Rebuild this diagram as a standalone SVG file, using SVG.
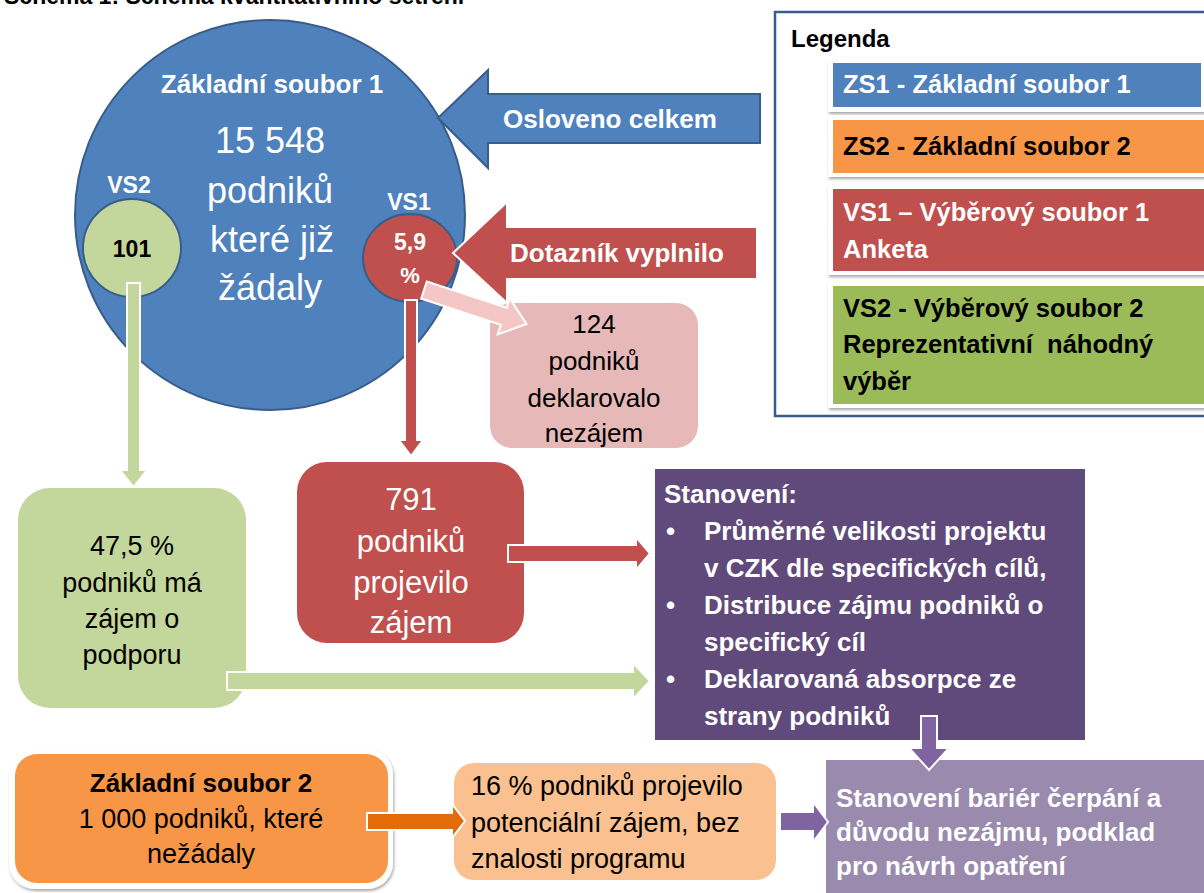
<svg xmlns="http://www.w3.org/2000/svg" width="1204" height="893" viewBox="0 0 1204 893">
<style>
text{font-family:"Liberation Sans",Arial,sans-serif;}
.b{font-weight:bold;}
.w{fill:#fff;}
.k{fill:#000;}
.c{text-anchor:middle;}
.arr{stroke:#fff;stroke-width:2;stroke-linejoin:miter;}
</style>
<defs>
<filter id="sh" x="-10%" y="-10%" width="120%" height="130%">
<feDropShadow dx="1" dy="2" stdDeviation="1.5" flood-color="#000" flood-opacity="0.35"/>
</filter>
</defs>
<rect width="1204" height="893" fill="#fff"/>
<text x="4" y="4" class="b k" font-size="23">Schéma 1: Schéma kvantitativního šetření</text>

<g id="zs1">
<circle cx="270" cy="215" r="195" fill="#4F81BD" stroke="#385D8A" stroke-width="2"/>
<text x="272" y="93" class="b w c" font-size="26">Základní soubor 1</text>
<text class="w c" font-size="36"><tspan x="270" y="153">15 548</tspan><tspan x="270" y="203">podniků</tspan><tspan x="272" y="252">které již</tspan><tspan x="270" y="300">žádaly</tspan></text>
<text x="129" y="193" class="b w c" font-size="23">VS2</text>
<text x="409" y="210" class="b w c" font-size="23">VS1</text>
</g>

<g id="vs2">
<circle cx="132" cy="248" r="49" fill="#C3D69B" stroke="#385D8A" stroke-width="2"/>
<text x="132" y="257" class="b k c" font-size="23">101</text>
</g>

<g id="vs1">
<ellipse cx="410" cy="258" rx="47" ry="44" fill="#C0504D" stroke="#385D8A" stroke-width="2"/>
<text x="410" y="250" class="b w c" font-size="23">5,9</text>
<text x="410" y="283" class="b w c" font-size="22">%</text>
</g>

<g id="osloveno">
<polygon points="438,118 488,70 488,94 760,94 760,143 488,143 488,168" fill="#4F81BD" stroke="#385D8A" stroke-width="2"/>
<text x="503" y="128" class="b w" font-size="26">Osloveno celkem</text>
</g>

<g id="dotaznik">
<polygon points="453,253 507,202 507,227 757,227 757,279 507,279 507,303" fill="#C0504D" stroke="#fff" stroke-width="2"/>
<text x="510" y="262" class="b w" font-size="26">Dotazník vyplnilo</text>
</g>

<g id="legenda">
<rect x="775" y="12" width="440" height="404" fill="#fff" stroke="#385D8A" stroke-width="2.5"/>
<text x="791" y="47" class="b k" font-size="24">Legenda</text>
<rect x="828" y="60" width="390" height="52" fill="#fff" filter="url(#sh)"/>
<rect x="833" y="63" width="368" height="44" fill="#4F81BD"/>
<text x="843" y="93" class="b w" font-size="25.5">ZS1 - Základní soubor 1</text>
<rect x="828" y="115" width="390" height="62" fill="#fff" filter="url(#sh)"/>
<rect x="833" y="120" width="380" height="53" fill="#F79646"/>
<text x="843" y="155" class="b k" font-size="25.5">ZS2 - Základní soubor 2</text>
<rect x="828" y="185" width="390" height="90" fill="#fff" filter="url(#sh)"/>
<rect x="833" y="189" width="380" height="82" fill="#C0504D"/>
<text class="b w" font-size="25.5"><tspan x="843" y="221">VS1 – Výběrový soubor 1</tspan><tspan x="843" y="258">Anketa</tspan></text>
<rect x="828" y="282" width="390" height="126" fill="#fff" filter="url(#sh)"/>
<rect x="833" y="286" width="380" height="118" fill="#9BBB59"/>
<text class="b k" font-size="25.5" xml:space="preserve"><tspan x="843" y="317">VS2 - Výběrový soubor 2</tspan><tspan x="843" y="353">Reprezentativní  náhodný</tspan><tspan x="843" y="390">výběr</tspan></text>
</g>

<g id="nezajem">
<rect x="490" y="303" width="208" height="145" rx="22" fill="#E6B9B8"/>
<text class="k c" font-size="26"><tspan x="594" y="333">124</tspan><tspan x="594" y="370">podniků</tspan><tspan x="594" y="407">deklarovalo</tspan><tspan x="594" y="442">nezájem</tspan></text>
</g>

<g id="zajem47">
<rect x="18" y="488" width="228" height="220" rx="32" fill="#C3D69B"/>
<text class="k c" font-size="27"><tspan x="132" y="555">47,5 %</tspan><tspan x="132" y="592">podniků má</tspan><tspan x="132" y="628">zájem o</tspan><tspan x="132" y="664">podporu</tspan></text>
</g>

<g id="zajem791">
<rect x="297" y="462" width="227" height="181" rx="30" fill="#C0504D"/>
<text class="w c" font-size="31"><tspan x="411" y="510">791</tspan><tspan x="411" y="552">podniků</tspan><tspan x="411" y="593">projevilo</tspan><tspan x="411" y="633">zájem</tspan></text>
</g>

<g id="stanoveni">
<rect x="655" y="469" width="430" height="271" fill="#604A7B"/>
<text x="664" y="503" class="b w" font-size="26">Stanovení:</text>
<g class="b w" font-size="26">
<text x="666" y="540">•</text>
<text x="666" y="614">•</text>
<text x="666" y="688">•</text>
<text><tspan x="704" y="540">Průměrné velikosti projektu</tspan><tspan x="704" y="577">v CZK dle specifických cílů,</tspan><tspan x="704" y="614">Distribuce zájmu podniků o</tspan><tspan x="704" y="651">specifický cíl</tspan><tspan x="704" y="688">Deklarovaná absorpce ze</tspan><tspan x="704" y="725">strany podniků</tspan></text>
</g>
</g>

<g id="zs2">
<rect x="9" y="749" width="384" height="140" rx="26" fill="#fff" filter="url(#sh)"/>
<rect x="15" y="754" width="373" height="129" rx="22" fill="#F79646"/>
<text x="201" y="792" class="b k c" font-size="26">Základní soubor 2</text>
<text class="k c" font-size="27"><tspan x="201" y="828">1 000 podniků, které</tspan><tspan x="201" y="863">nežádaly</tspan></text>
</g>

<g id="zajem16">
<rect x="454" y="763" width="322" height="117" rx="20" fill="#FAC090"/>
<text class="k" font-size="27"><tspan x="471" y="795">16 % podniků projevilo</tspan><tspan x="471" y="832">potenciální zájem, bez</tspan><tspan x="471" y="868">znalosti programu</tspan></text>
</g>

<g id="bariery">
<rect x="826" y="760" width="380" height="135" fill="#998AAE"/>
<text class="b w" font-size="26"><tspan x="836" y="807">Stanovení bariér čerpání a</tspan><tspan x="836" y="841">důvodu nezájmu, podklad</tspan><tspan x="836" y="875">pro návrh opatření</tspan></text>
</g>

<g id="connectors">
<polygon class="arr" points="127,283 140,283 140,470 147,470 133.5,487 120,470 127,470" fill="#C3D69B"/>
<polygon class="arr" points="405,300 417,300 417,440 423,440 411,456 399,440 405,440" fill="#C0504D"/>
<polygon class="arr" transform="translate(424,290) rotate(18.3)" points="0,-9 84,-9 84,-19 108,0 84,19 84,9 0,9" fill="#F4C6C6"/>
<polygon class="arr" points="508,545 636,545 636,537 650,553.5 636,570 636,562 508,562" fill="#C0504D"/>
<polygon class="arr" points="227,672 633,672 633,663 650,681 633,699 633,690 227,690" fill="#C3D69B"/>
<polygon class="arr" points="921,716 937,716 937,748 949,748 929,770 909,748 921,748" fill="#8064A2"/>
<polygon class="arr" points="367,813 452,813 452,804 465,821 452,838 452,830 367,830" fill="#E36C09"/>
<polygon class="arr" points="780,812 813,812 813,802 828,822 813,842 813,831 780,831" fill="#8064A2"/>
</g>
</svg>
